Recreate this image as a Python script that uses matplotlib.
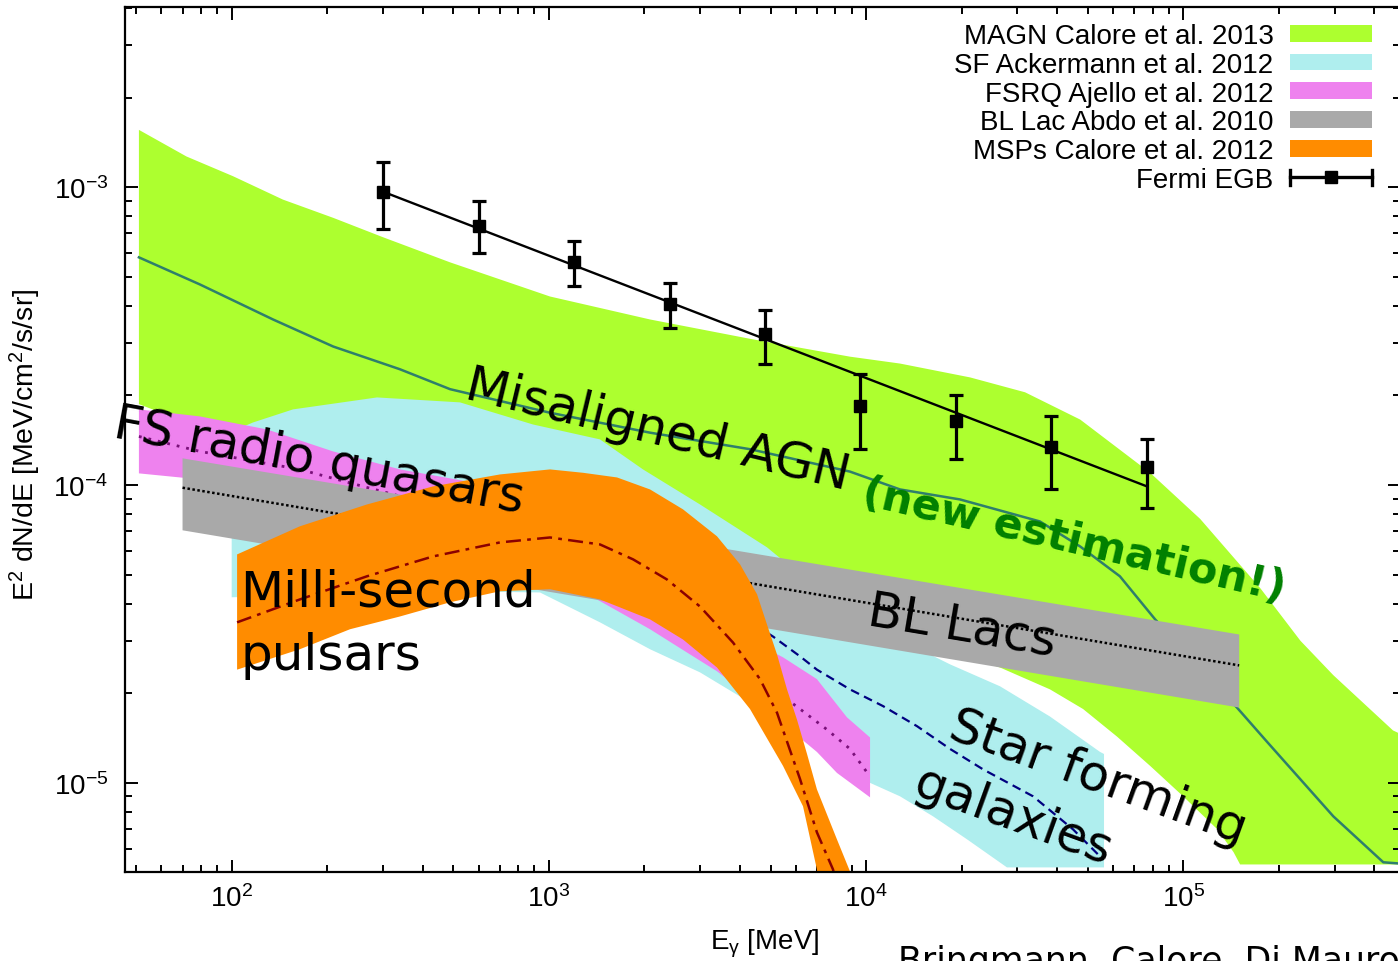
import numpy as np
import matplotlib
matplotlib.use("Agg")
import matplotlib.pyplot as plt
from matplotlib.patches import Patch
from matplotlib.lines import Line2D
from matplotlib.legend_handler import HandlerBase

plt.rcParams['font.family'] = ['Liberation Sans', 'DejaVu Sans']
plt.rcParams['mathtext.default'] = 'regular'
plt.rcParams['axes.unicode_minus'] = False

# ---------------- data (E in MeV, E^2 dN/dE in MeV/cm^2/s/sr) ----------------
# Misaligned AGN (Calore et al. 2013)
magn_up_e = [51, 72, 101, 145, 209, 300, 488, 1008, 2084, 4305, 8896, 12790, 21270,
             31700, 47300, 78600, 1.13e5, 1.75e5, 2.34e5, 2.97e5, 4.58e5, 4.9e5]
magn_up_f = [1.56e-3, 1.27e-3, 1.09e-3, 9.1e-4, 7.9e-4, 6.8e-4, 5.6e-4, 4.3e-4, 3.6e-4,
             3.1e-4, 2.7e-4, 2.56e-4, 2.3e-4, 2.05e-4, 1.66e-4, 1.10e-4, 7.7e-5, 4.5e-5,
             3.0e-5, 2.3e-5, 1.5e-5, 1.45e-5]
magn_lo_e = [51, 100, 209, 488, 1008, 2084, 4305, 8896, 26430, 38000, 48300, 61800,
             78600, 1.0e5, 1.28e5, 1.44e5, 1.51e5, 4.9e5]
magn_lo_f = [1.87e-4, 1.42e-4, 1.04e-4, 7.1e-5, 5.85e-5, 5.0e-5, 4.47e-5, 3.54e-5,
             2.44e-5, 2.06e-5, 1.77e-5, 1.43e-5, 1.14e-5, 9.0e-6, 6.98e-6, 5.85e-6,
             5.32e-6, 5.32e-6]
magn_mid_e = [51, 79.4, 135, 209, 339, 488, 1008, 2084, 4305, 8896, 12790, 19770, 35300,
              47300, 63100, 81500, 1.476e5, 1.84e5, 2.97e5, 4.27e5, 4.9e5]
magn_mid_f = [5.82e-4, 4.72e-4, 3.60e-4, 2.92e-4, 2.45e-4, 2.10e-4, 1.75e-4, 1.50e-4,
              1.32e-4, 1.11e-4, 9.67e-5, 8.95e-5, 7.55e-5, 6.22e-5, 4.94e-5, 3.54e-5,
              1.79e-5, 1.37e-5, 7.72e-6, 5.41e-6, 5.35e-6]

# Star-forming galaxies (Ackermann et al. 2012)
sf_up_e = [100, 116.7, 156.1, 287.2, 524.4, 891.2, 1449, 1980, 2995, 4871, 6189, 8896,
           12790, 18390, 26430, 37990, 54640, 56230]
sf_up_f = [1.514e-4, 1.623e-4, 1.796e-4, 1.970e-4, 1.896e-4, 1.598e-4, 1.424e-4,
           1.129e-4, 8.61e-5, 6.18e-5, 5.01e-5, 3.83e-5, 3.03e-5, 2.50e-5, 2.11e-5,
           1.67e-5, 1.27e-5, 1.25e-5]
sf_lo_e = [100, 236, 488, 937, 1449, 2084, 2995, 4004, 6997, 10290, 12790, 16250,
           20810, 27800, 56230]
sf_lo_f = [4.20e-5, 4.30e-5, 4.40e-5, 4.36e-5, 3.46e-5, 2.81e-5, 2.35e-5, 1.95e-5,
           1.35e-5, 1.00e-5, 9.01e-6, 7.72e-6, 6.46e-6, 5.20e-6, 5.20e-6]
sf_mid_e = [100, 164, 339, 701, 1449, 2995, 5088, 6189, 6997, 8896, 11310, 14470,
            18390, 23370, 33600, 44900, 55840]
sf_mid_f = [7.97e-5, 9.52e-5, 1.029e-4, 9.67e-5, 7.10e-5, 4.47e-5, 3.10e-5, 2.66e-5,
            2.40e-5, 2.06e-5, 1.81e-5, 1.55e-5, 1.30e-5, 1.11e-5, 9.01e-6, 6.98e-6,
            5.53e-6]

# FSRQ (Ajello et al. 2012)
fsrq_up_e = [51, 79.4, 129.2, 208.6, 339.4, 551.9, 1008, 2084, 3463, 5471, 6997, 8700, 10290]
fsrq_up_f = [1.796e-4, 1.701e-4, 1.538e-4, 1.298e-4, 1.129e-4, 1.029e-4, 8.29e-5,
             5.42e-5, 3.40e-5, 2.64e-5, 2.23e-5, 1.66e-5, 1.42e-5]
fsrq_lo_e = [51, 79.4, 164, 339, 701, 1418, 2084, 2725, 3388, 4630, 6997, 8091, 10290]
fsrq_lo_f = [1.095e-4, 1.045e-4, 8.29e-5, 6.32e-5, 5.01e-5, 4.13e-5, 3.28e-5, 2.74e-5,
             2.37e-5, 1.83e-5, 1.27e-5, 1.08e-5, 8.94e-6]
fsrq_mid_e = [51, 79.4, 164, 267, 488, 1008, 2084, 3463, 6189, 7527, 8896, 10290]
fsrq_mid_f = [1.457e-4, 1.298e-4, 1.129e-4, 9.82e-5, 8.29e-5, 6.57e-5, 4.47e-5,
              2.81e-5, 1.77e-5, 1.51e-5, 1.30e-5, 1.05e-5]

# BL Lacs (Abdo et al. 2010): power law with uncertainty band
bll_e = [70, 1.5e5]
bll_up_f = [1.23e-4, 3.15e-5]
bll_mid_f = [9.8e-5, 2.48e-5]
bll_lo_f = [7.05e-5, 1.79e-5]

# Millisecond pulsars (Calore et al. 2012)
msp_up_e = [104, 164, 267, 431, 701, 1008, 1281, 1640, 2084, 2647, 3388, 4004, 4530,
            4871, 5237, 5632, 6055, 6512, 6997, 8091, 8896, 9600]
msp_up_f = [5.85e-5, 7.27e-5, 8.61e-5, 9.90e-5, 1.086e-4, 1.129e-4, 1.10e-4, 1.061e-4,
            9.67e-5, 8.29e-5, 6.73e-5, 5.42e-5, 4.30e-5, 3.40e-5, 2.70e-5, 2.06e-5,
            1.63e-5, 1.25e-5, 9.51e-6, 6.46e-6, 5.04e-6, 4.0e-6]
msp_lo_e = [104, 164, 236, 339, 488, 701, 1008, 1449, 2084, 2647, 3388, 4305, 5471,
            6326, 6997, 7151]
msp_lo_f = [2.40e-5, 2.81e-5, 3.28e-5, 3.62e-5, 4.04e-5, 4.40e-5, 4.47e-5, 4.13e-5,
            3.54e-5, 3.03e-5, 2.44e-5, 1.77e-5, 1.14e-5, 8.34e-6, 5.12e-6, 4.0e-6]
msp_mid_e = [104, 164, 267, 431, 701, 1008, 1449, 1843, 2356, 2995, 3805, 4630, 5237,
             6189, 6997, 7863, 8270]
msp_mid_f = [3.46e-5, 4.13e-5, 4.94e-5, 5.76e-5, 6.42e-5, 6.67e-5, 6.32e-5, 5.63e-5,
             4.82e-5, 3.91e-5, 2.96e-5, 2.23e-5, 1.72e-5, 1.03e-5, 6.82e-6, 5.12e-6,
             4.06e-6]

# Fermi-LAT extragalactic gamma-ray background
egb_e = [300, 600, 1200, 2400, 4800, 9600, 19200, 38400, 76800]
egb_f = [9.67e-4, 7.43e-4, 5.60e-4, 4.06e-4, 3.22e-4, 1.84e-4, 1.64e-4, 1.34e-4, 1.15e-4]
egb_hi = [1.216e-3, 8.97e-4, 6.62e-4, 4.76e-4, 3.87e-4, 2.36e-4, 2.00e-4, 1.70e-4, 1.43e-4]
egb_lo = [7.25e-4, 6.02e-4, 4.68e-4, 3.38e-4, 2.55e-4, 1.32e-4, 1.22e-4, 9.73e-5, 8.39e-5]
egb_fit_e = [300, 76800]
egb_fit_f = [9.67e-4, 9.9e-5]

legend_labels = ["MAGN Calore et al. 2013", "SF Ackermann et al. 2012",
                 "FSRQ Ajello et al. 2012", "BL Lac Abdo et al. 2010",
                 "MSPs Calore et al. 2012", "Fermi EGB"]

# ---------------- colours ----------------
C_MAGN, C_SF, C_FSRQ, C_BLL, C_MSP = "#adff2f", "#afeeee", "#ee82ee", "#a9a9a9", "#ff8c00"

# ---------------- figure ----------------
W, H = 1398, 962
fig = plt.figure(figsize=(W / 100, H / 100), dpi=100)
ax = fig.add_axes([125 / W, 1 - 872.7 / H, 1275 / W, 865.2 / H])
ax.set_xscale("log")
ax.set_yscale("log")
ax.set_xlim(46.1, 4.82e5)
ax.set_ylim(5.03e-6, 4.05e-3)


def band(e_up, f_up, e_lo, f_lo, color, z):
    xs = np.concatenate([np.asarray(e_up, float), np.asarray(e_lo, float)[::-1]])
    ys = np.concatenate([np.asarray(f_up, float), np.asarray(f_lo, float)[::-1]])
    ax.fill(xs, ys, color=color, lw=0, zorder=z)


band(magn_up_e, magn_up_f, magn_lo_e, magn_lo_f, C_MAGN, 1)
band(sf_up_e, sf_up_f, sf_lo_e, sf_lo_f, C_SF, 2)
band(fsrq_up_e, fsrq_up_f, fsrq_lo_e, fsrq_lo_f, C_FSRQ, 3)
band(bll_e, bll_up_f, bll_e, bll_lo_f, C_BLL, 4)
band(msp_up_e, msp_up_f, msp_lo_e, msp_lo_f, C_MSP, 5)

ax.plot(magn_mid_e, magn_mid_f, color="#2e7f6c", lw=1.8, zorder=1.5)
ax.plot(sf_mid_e, sf_mid_f, color="#000080", lw=1.6, ls=(0, (4, 2.5)), zorder=2.5)
ax.plot(fsrq_mid_e, fsrq_mid_f, color="#7a107a", lw=2.0, ls=(0, (1, 2.5)), zorder=3.5)
ax.plot(bll_e, bll_mid_f, color="black", lw=1.8, ls=(0, (1, 1)), zorder=4.5)
ax.plot(msp_mid_e, msp_mid_f, color="#8b0000", lw=1.8, ls=(0, (6, 2.5, 1.5, 2.5)), zorder=5.5)

# Fermi EGB data and its power-law fit
egb_f_a = np.asarray(egb_f)
yerr = [egb_f_a - np.asarray(egb_lo), np.asarray(egb_hi) - egb_f_a]
ax.plot(egb_fit_e, egb_fit_f, color="black", lw=1.7, zorder=9)
ax.errorbar(egb_e, egb_f, yerr=yerr, fmt="s", color="black", ms=9,
            elinewidth=2.3, capsize=5, capthick=2.3, zorder=10)

# ---------------- axes styling ----------------
for sp in ax.spines.values():
    sp.set_linewidth(1.6)
    sp.set_zorder(20)
ax.tick_params(which="both", direction="in", top=True, right=True, width=1.4,
               labelsize=20)
ax.tick_params(which="major", length=9, pad=9)
ax.tick_params(which="minor", length=4.8)
ax.tick_params(axis="y", which="major", pad=12)

ax.set_xlabel("E$_{\\mathregular{γ}}$ [MeV]", fontsize=20)
ax.xaxis.set_label_coords(0.502, -0.063)
ax.set_ylabel("E$^2$ dN/dE [MeV/cm$^2$/s/sr]", fontsize=20.5)
ax.yaxis.set_label_coords(-0.064, 0.494)


# ---------------- legend ----------------
class EGBKey(HandlerBase):
    def create_artists(self, legend, orig, xd, yd, width, height, fontsize, trans):
        y = -yd + height / 2
        x0, x1 = -xd, -xd + width
        h = height * 0.45
        arts = [Line2D([x0, x1], [y, y], color="black", lw=2.4),
                Line2D([x0, x0], [y - h, y + h], color="black", lw=2.4),
                Line2D([x1, x1], [y - h, y + h], color="black", lw=2.4),
                Line2D([(x0 + x1) / 2], [y], marker="s", ms=9, color="black", lw=0)]
        for a in arts:
            a.set_transform(trans)
        return arts


egb_key = Line2D([], [])
handles = [Patch(facecolor=c, edgecolor="none") for c in (C_MAGN, C_SF, C_FSRQ, C_BLL, C_MSP)]
handles.append(egb_key)
ax.legend(handles, legend_labels, handler_map={egb_key: EGBKey()},
          loc="upper right", bbox_to_anchor=(1372 / W, 1 - 24 / H),
          bbox_transform=fig.transFigure, frameon=False, markerfirst=False,
          fontsize=20, borderpad=0, borderaxespad=0, handlelength=2.95,
          handleheight=0.55, handletextpad=0.6, labelspacing=0.1)

# ---------------- annotations ----------------
hand = dict(family="DejaVu Sans", color="black", zorder=15, rotation_mode="anchor",
            transform=ax.transAxes)
ax.text(0.418, 0.5105, "Misaligned AGN", fontsize=36, rotation=-13.5,
        ha="center", va="center", **hand)
ax.text(0.7443, 0.3834, "(new estimation!)", fontsize=31, rotation=-13,
        ha="center", va="center", fontweight="bold",
        **{**hand, "color": "#008000"})
ax.text(0.1522, 0.4758, "FS radio quasars", fontsize=36, rotation=-10.5,
        ha="center", va="center", **hand)
ax.text(0.0902, 0.3071, "Milli-second", fontsize=36, ha="left", va="baseline", **hand)
ax.text(0.0902, 0.2343, "pulsars", fontsize=36, ha="left", va="baseline", **hand)
ax.text(0.6565, 0.285, "BL Lacs", fontsize=36, rotation=-9.5,
        ha="center", va="center", **hand)
ax.text(0.7631, 0.1093, "Star forming", fontsize=36, rotation=-20,
        ha="center", va="center", **hand)
ax.text(0.6965, 0.0644, "galaxies", fontsize=36, rotation=-20,
        ha="center", va="center", **hand)
fig.text(898 / W, 1 - 972 / H, "Bringmann, Calore, Di Mauro", family="DejaVu Sans",
         fontsize=25, ha="left", va="baseline")

fig.savefig("out.png", dpi=100)
